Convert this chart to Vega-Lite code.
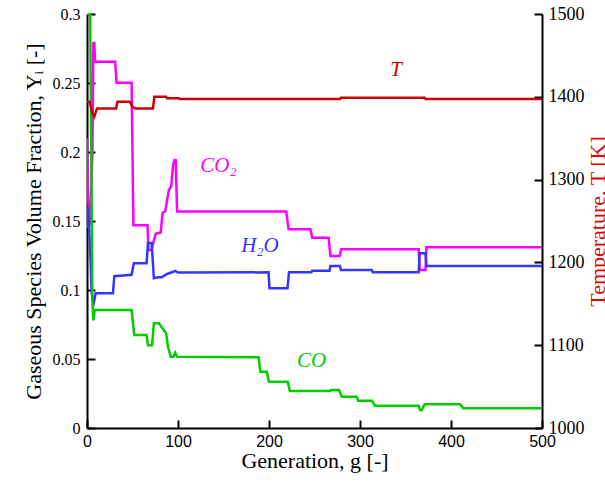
{
  "$schema": "https://vega.github.io/schema/vega-lite/v6.json",
  "width": 455,
  "height": 414,
  "autosize": {"type": "none"},
  "padding": {"left": 87, "top": 14, "right": 63, "bottom": 55},
  "background": "white",
  "config": {
    "view": {"stroke": null},
    "axis": {
      "grid": false,
      "domainColor": "black",
      "domainWidth": 2,
      "tickColor": "black",
      "tickWidth": 2,
      "tickSize": -8,
      "labelColor": "black",
      "labelOverlap": false,
      "labelFlush": false,
      "titleColor": "black",
      "titleFont": "Liberation Serif",
      "titleFontSize": 22,
      "titleFontWeight": "normal"
    }
  },
  "datasets": {
    "species": [
      {"g": 0, "v": 0.21, "s": "CO2"}, {"g": 1, "v": 0.17, "s": "CO2"}, {"g": 3, "v": 0.147, "s": "CO2"}, {"g": 4, "v": 0.16, "s": "CO2"},
      {"g": 6, "v": 0.2, "s": "CO2"}, {"g": 7, "v": 0.279, "s": "CO2"}, {"g": 8, "v": 0.279, "s": "CO2"}, {"g": 9, "v": 0.2654, "s": "CO2"},
      {"g": 31, "v": 0.2654, "s": "CO2"}, {"g": 32.5, "v": 0.2502, "s": "CO2"}, {"g": 49, "v": 0.2502, "s": "CO2"}, {"g": 51, "v": 0.147, "s": "CO2"},
      {"g": 66.5, "v": 0.147, "s": "CO2"}, {"g": 67.5, "v": 0.129, "s": "CO2"}, {"g": 71, "v": 0.129, "s": "CO2"}, {"g": 73.5, "v": 0.136, "s": "CO2"},
      {"g": 75.5, "v": 0.1408, "s": "CO2"}, {"g": 81, "v": 0.1417, "s": "CO2"}, {"g": 83, "v": 0.156, "s": "CO2"}, {"g": 86, "v": 0.157, "s": "CO2"},
      {"g": 88, "v": 0.1648, "s": "CO2"}, {"g": 90, "v": 0.1725, "s": "CO2"}, {"g": 92.5, "v": 0.175, "s": "CO2"}, {"g": 94.5, "v": 0.19, "s": "CO2"},
      {"g": 96, "v": 0.194, "s": "CO2"}, {"g": 97.5, "v": 0.194, "s": "CO2"}, {"g": 99, "v": 0.1568, "s": "CO2"}, {"g": 219, "v": 0.1568, "s": "CO2"},
      {"g": 221.5, "v": 0.144, "s": "CO2"}, {"g": 245.5, "v": 0.144, "s": "CO2"}, {"g": 247.5, "v": 0.1379, "s": "CO2"}, {"g": 265.5, "v": 0.1379, "s": "CO2"},
      {"g": 267.5, "v": 0.1246, "s": "CO2"}, {"g": 277.5, "v": 0.1246, "s": "CO2"}, {"g": 279.5, "v": 0.1295, "s": "CO2"}, {"g": 364.5, "v": 0.1295, "s": "CO2"},
      {"g": 365.5, "v": 0.1145, "s": "CO2"}, {"g": 372, "v": 0.1145, "s": "CO2"}, {"g": 373, "v": 0.131, "s": "CO2"}, {"g": 500, "v": 0.131, "s": "CO2"},

      {"g": 0, "v": 0.145, "s": "H2O"}, {"g": 1, "v": 0.16, "s": "H2O"}, {"g": 2, "v": 0.15, "s": "H2O"}, {"g": 4, "v": 0.12, "s": "H2O"},
      {"g": 5, "v": 0.1, "s": "H2O"}, {"g": 6, "v": 0.093, "s": "H2O"}, {"g": 7.5, "v": 0.0908, "s": "H2O"}, {"g": 9.5, "v": 0.0976, "s": "H2O"},
      {"g": 28.5, "v": 0.0976, "s": "H2O"}, {"g": 30, "v": 0.11, "s": "H2O"}, {"g": 49, "v": 0.111, "s": "H2O"}, {"g": 51.5, "v": 0.1193, "s": "H2O"},
      {"g": 65.5, "v": 0.1193, "s": "H2O"}, {"g": 67, "v": 0.134, "s": "H2O"}, {"g": 71, "v": 0.134, "s": "H2O"}, {"g": 73.5, "v": 0.1085, "s": "H2O"},
      {"g": 78, "v": 0.1092, "s": "H2O"}, {"g": 82, "v": 0.1092, "s": "H2O"}, {"g": 88, "v": 0.1116, "s": "H2O"}, {"g": 97, "v": 0.1138, "s": "H2O"},
      {"g": 100, "v": 0.1126, "s": "H2O"}, {"g": 199.5, "v": 0.1128, "s": "H2O"}, {"g": 200.5, "v": 0.1012, "s": "H2O"}, {"g": 220.3, "v": 0.1012, "s": "H2O"},
      {"g": 222, "v": 0.1128, "s": "H2O"}, {"g": 246.5, "v": 0.1128, "s": "H2O"}, {"g": 247.5, "v": 0.114, "s": "H2O"}, {"g": 266.5, "v": 0.114, "s": "H2O"},
      {"g": 267.5, "v": 0.1174, "s": "H2O"}, {"g": 278, "v": 0.1174, "s": "H2O"}, {"g": 279, "v": 0.1145, "s": "H2O"}, {"g": 313, "v": 0.1145, "s": "H2O"},
      {"g": 314, "v": 0.1128, "s": "H2O"}, {"g": 364.5, "v": 0.1128, "s": "H2O"}, {"g": 365.5, "v": 0.1266, "s": "H2O"}, {"g": 372, "v": 0.1266, "s": "H2O"},
      {"g": 373, "v": 0.1174, "s": "H2O"}, {"g": 500, "v": 0.1174, "s": "H2O"},

      {"g": 0, "v": 0.3, "s": "CO"}, {"g": 3.5, "v": 0.3, "s": "CO"}, {"g": 6, "v": 0.09, "s": "CO"}, {"g": 7, "v": 0.078, "s": "CO"},
      {"g": 8.5, "v": 0.0855, "s": "CO"}, {"g": 49, "v": 0.0855, "s": "CO"}, {"g": 52, "v": 0.0674, "s": "CO"}, {"g": 65.5, "v": 0.0674, "s": "CO"},
      {"g": 67, "v": 0.06, "s": "CO"}, {"g": 71.5, "v": 0.06, "s": "CO"}, {"g": 73.5, "v": 0.0759, "s": "CO"}, {"g": 79, "v": 0.0759, "s": "CO"},
      {"g": 83, "v": 0.0722, "s": "CO"}, {"g": 87, "v": 0.0686, "s": "CO"}, {"g": 89, "v": 0.0589, "s": "CO"}, {"g": 92, "v": 0.0517, "s": "CO"},
      {"g": 95, "v": 0.0517, "s": "CO"}, {"g": 97, "v": 0.0546, "s": "CO"}, {"g": 99, "v": 0.0517, "s": "CO"}, {"g": 188.5, "v": 0.0512, "s": "CO"},
      {"g": 190.5, "v": 0.0408, "s": "CO"}, {"g": 197.5, "v": 0.0408, "s": "CO"}, {"g": 200, "v": 0.0336, "s": "CO"}, {"g": 220.5, "v": 0.0336, "s": "CO"},
      {"g": 223, "v": 0.0268, "s": "CO"}, {"g": 267, "v": 0.0268, "s": "CO"}, {"g": 268, "v": 0.0275, "s": "CO"}, {"g": 277, "v": 0.0275, "s": "CO"},
      {"g": 280, "v": 0.0227, "s": "CO"}, {"g": 296.5, "v": 0.0227, "s": "CO"}, {"g": 298, "v": 0.0198, "s": "CO"}, {"g": 313, "v": 0.0198, "s": "CO"},
      {"g": 316.5, "v": 0.0162, "s": "CO"}, {"g": 364.5, "v": 0.0162, "s": "CO"}, {"g": 366, "v": 0.013, "s": "CO"}, {"g": 368, "v": 0.013, "s": "CO"},
      {"g": 371, "v": 0.0172, "s": "CO"}, {"g": 410, "v": 0.0172, "s": "CO"}, {"g": 413.5, "v": 0.0143, "s": "CO"}, {"g": 500, "v": 0.0143, "s": "CO"}
    ],
    "temp": [
      {"g": 0, "T": 1394}, {"g": 3, "T": 1394}, {"g": 6, "T": 1380}, {"g": 8, "T": 1376}, {"g": 11, "T": 1386},
      {"g": 32, "T": 1386}, {"g": 33.5, "T": 1394}, {"g": 47, "T": 1394}, {"g": 50, "T": 1388}, {"g": 53, "T": 1386},
      {"g": 72.5, "T": 1386}, {"g": 74, "T": 1400}, {"g": 87, "T": 1400}, {"g": 88, "T": 1398.2}, {"g": 101, "T": 1398.2},
      {"g": 102, "T": 1397.3}, {"g": 278, "T": 1397.3}, {"g": 279, "T": 1398.9}, {"g": 371, "T": 1398.9}, {"g": 372, "T": 1397.3},
      {"g": 500, "T": 1397.3}
    ],
    "labels": [
      {"g": 333.3, "v": 0.2594, "s": "T", "label": "T"},
      {"g": 124.5, "v": 0.1895, "s": "CO2", "label": "CO₂"},
      {"g": 169.4, "v": 0.1319, "s": "H2O", "label": "H₂O"},
      {"g": 230.7, "v": 0.0487, "s": "CO", "label": "CO"}
    ]
  },
  "layer": [
    {
      "layer": [
        {
          "data": {"name": "species"},
          "mark": {"type": "line", "strokeWidth": 2.5, "clip": true},
          "encoding": {
            "x": {
              "field": "g", "type": "quantitative",
              "scale": {"domain": [0, 500], "nice": false},
              "axis": {
                "values": [0, 100, 200, 300, 400, 500],
                "labelFont": "Liberation Sans", "labelFontSize": 16, "labelPadding": 13,
                "title": "Generation, g [-]", "titleY": 39, "titleBaseline": "alphabetic"
              }
            },
            "y": {
              "field": "v", "type": "quantitative",
              "scale": {"domain": [0, 0.3], "nice": false},
              "axis": {
                "values": [0, 0.05, 0.1, 0.15, 0.2, 0.25, 0.3], "format": "~g",
                "labelFont": "Liberation Serif", "labelFontSize": 16, "labelPadding": 15,
                "title": "Gaseous Species Volume Fraction, Yᵢ [-]",
                "titleX": -54, "titleY": 207, "titleAngle": 270, "titleBaseline": "middle"
              }
            },
            "color": {
              "field": "s", "type": "nominal",
              "scale": {"domain": ["CO2", "H2O", "CO", "T"], "range": ["#FF00FF", "#3535FF", "#00CC00", "#CC0000"]},
              "legend": null
            }
          }
        },
        {
          "data": {"name": "labels"},
          "mark": {"type": "text", "font": "Liberation Serif", "fontStyle": "italic", "fontSize": 21, "align": "left", "baseline": "middle"},
          "encoding": {
            "x": {"field": "g", "type": "quantitative"},
            "y": {"field": "v", "type": "quantitative"},
            "text": {"field": "label"},
            "color": {"field": "s", "type": "nominal", "legend": null}
          }
        }
      ]
    },
    {
      "data": {"name": "temp"},
      "mark": {"type": "line", "strokeWidth": 2.5, "color": "#CC0000"},
      "encoding": {
        "x": {"field": "g", "type": "quantitative"},
        "y": {
          "field": "T", "type": "quantitative",
          "scale": {"domain": [1000, 1500], "nice": false},
          "axis": {
            "orient": "right",
            "values": [1000, 1100, 1200, 1300, 1400, 1500], "format": "d",
            "labelFont": "Liberation Serif", "labelFontSize": 18, "labelPadding": 14,
            "title": "Temperature, T [K]", "titleColor": "#E60000",
            "titleX": 55, "titleY": 207, "titleAngle": 270, "titleBaseline": "middle"
          }
        }
      }
    }
  ],
  "resolve": {"scale": {"y": "independent"}}
}
